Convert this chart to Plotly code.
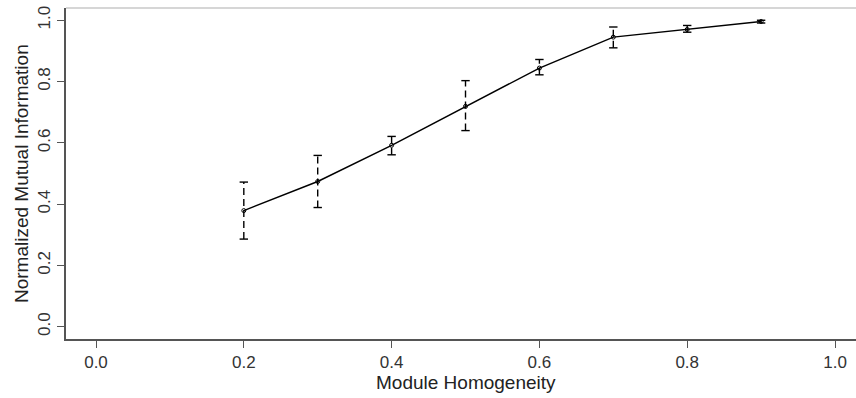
import plotly.graph_objects as go

homogeneity = [0.2, 0.3, 0.4, 0.5, 0.6, 0.7, 0.8, 0.9]
nmi_mean = [0.379, 0.474, 0.592, 0.719, 0.844, 0.945, 0.970, 0.996]
nmi_upper = [0.472, 0.559, 0.621, 0.803, 0.872, 0.978, 0.983, 1.000]
nmi_lower = [0.286, 0.389, 0.561, 0.640, 0.822, 0.910, 0.961, 0.991]
x_ticks = [0.0, 0.2, 0.4, 0.6, 0.8, 1.0]
y_ticks = [0.0, 0.2, 0.4, 0.6, 0.8, 1.0]

fig = go.Figure()

# dashed error bars
ex, ey = [], []
for x, lo, hi in zip(homogeneity, nmi_lower, nmi_upper):
    ex += [x, x, None]
    ey += [lo, hi, None]
fig.add_trace(go.Scatter(x=ex, y=ey, mode="lines",
                         line=dict(color="black", width=1.4, dash="7px,4px"),
                         hoverinfo="skip", showlegend=False))
# caps
fig.add_trace(go.Scatter(x=homogeneity + homogeneity, y=nmi_upper + nmi_lower,
                         mode="markers",
                         marker=dict(symbol="line-ew", size=6,
                                     line=dict(color="black", width=1.4)),
                         hoverinfo="skip", showlegend=False))
# mean line
fig.add_trace(go.Scatter(x=homogeneity, y=nmi_mean, mode="lines+markers",
                         line=dict(color="black", width=1.5),
                         marker=dict(symbol="circle-open", size=4,
                                     line=dict(color="#444", width=1)),
                         showlegend=False))

font = "Liberation Sans, Arial, sans-serif"
fig.update_layout(
    width=856, height=398,
    margin=dict(l=66, r=0, t=8, b=59),
    paper_bgcolor="white", plot_bgcolor="white",
    font=dict(family=font, color="#222"),
    xaxis=dict(range=[-0.0406, 1.0284], tickvals=x_ticks,
               ticktext=[f"{v:.1f}" for v in x_ticks],
               showgrid=False, zeroline=False, automargin=False,
               showline=True, linecolor="#555", linewidth=1.5,
               ticks="outside", ticklen=7, tickcolor="#555", tickwidth=1,
               tickfont=dict(size=17, color="#333")),
    yaxis=dict(range=[-0.04, 1.04], tickvals=y_ticks,
               ticktext=[f"{v:.1f}" for v in y_ticks],
               showgrid=False, zeroline=False, automargin=False,
               showline=True, linecolor="#555", linewidth=1.5,
               ticks="outside", ticklen=7, tickcolor="#555", tickwidth=1,
               tickangle=-90,
               tickfont=dict(size=17, color="#333")),
    shapes=[dict(type="line", xref="paper", yref="paper", x0=0, x1=1, y0=1, y1=1,
                 line=dict(color="#c8c8c8", width=1.5))],
    annotations=[
        dict(text="Module Homogeneity", xref="x", yref="paper", x=0.5, y=-59/331,
             yanchor="bottom", xanchor="center", yshift=3, showarrow=False,
             font=dict(size=19, color="#222")),
        dict(text="Normalized Mutual Information", xref="paper", yref="paper",
             x=-66/790, xanchor="left", xshift=9, y=0.5, yanchor="middle",
             textangle=-90, showarrow=False, font=dict(size=19, color="#222")),
    ],
)

fig.write_html("out.html", config={"displayModeBar": False},
               post_script="document.body.style.margin='0';document.body.style.padding='0';")
